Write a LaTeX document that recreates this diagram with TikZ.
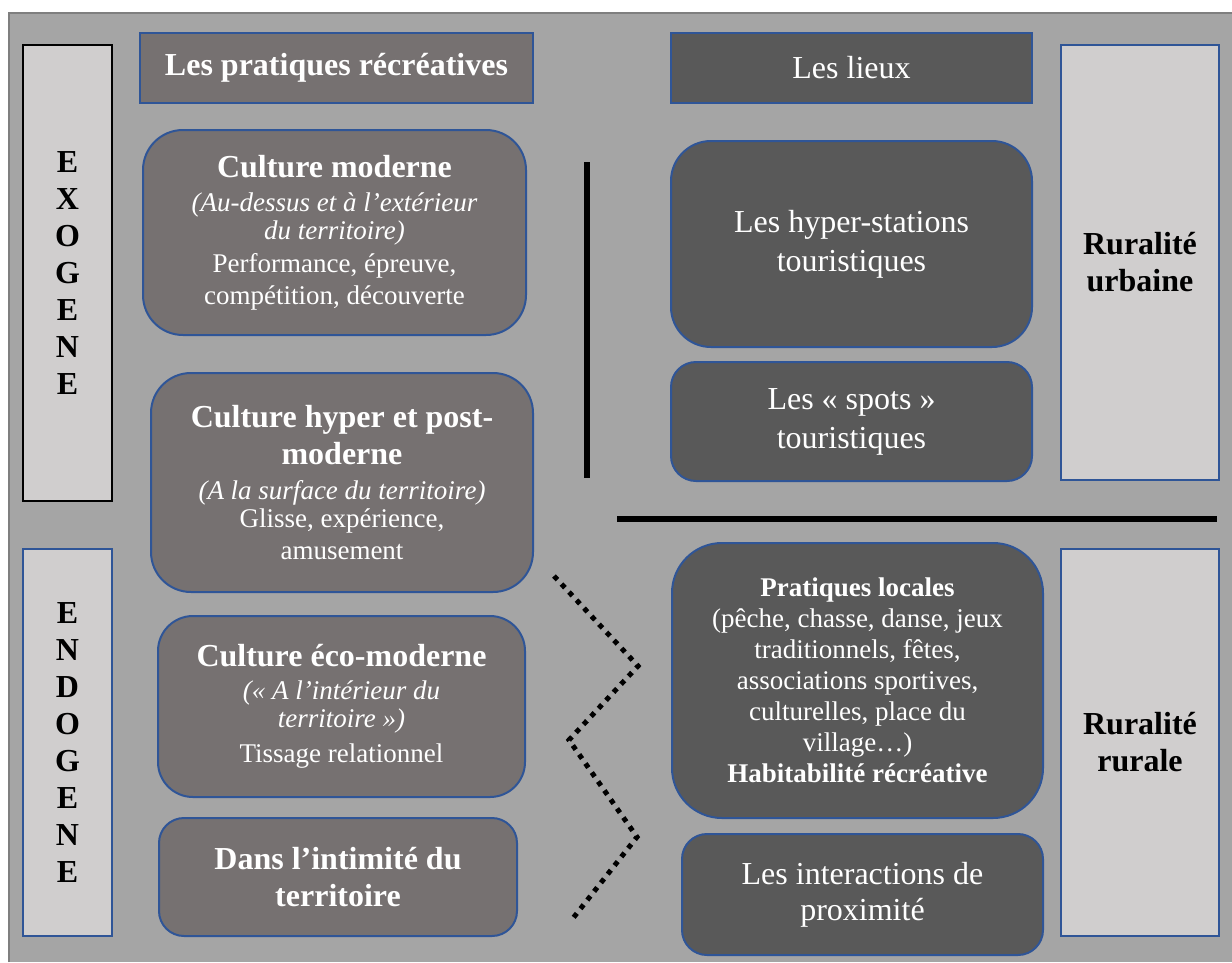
\documentclass[tikz,border=0pt]{standalone}
\usepackage{fontspec}
\setmainfont{Liberation Serif}
\definecolor{bgc}{HTML}{A5A5A5}
\definecolor{framec}{HTML}{7F7F7F}
\definecolor{leftc}{HTML}{767171}
\definecolor{rightc}{HTML}{595959}
\definecolor{lightc}{HTML}{D0CECE}
\definecolor{bluec}{HTML}{2F5597}
\newcommand\fsB{\fontsize{32}{37}\selectfont\bfseries}
\newcommand\fsR{\fontsize{27}{31}\selectfont}
\newcommand\fsM{\fontsize{32}{39}\selectfont}
\begin{document}
\begin{tikzpicture}[x=1pt,y=-1pt,
  base/.style={inner sep=0pt, outer sep=0pt, line width=2pt, align=center},
  sz/.style 2 args={minimum width=#1pt, minimum height=#2pt},
  hdl/.style={base, fill=leftc, draw=bluec, text=white},
  hdr/.style={base, fill=rightc, draw=bluec, text=white},
  lbox/.style={base, fill=leftc, draw=bluec, text=white, rounded corners=#1},
  rbox/.style={base, fill=rightc, draw=bluec, text=white, rounded corners=#1},
  side/.style={base, fill=lightc, draw=bluec, text=black},
  sepline/.style={line width=6pt, black},
  zig/.style={line width=5pt, dash pattern=on 5pt off 6pt, black},
]
\useasboundingbox (0,0) rectangle (1232,962);
\fill[bgc] (9,13) rectangle (1232,962);
\draw[framec, line width=2pt] (9,962) -- (9,13) -- (1232,13);

% headers
\node[hdl, sz={393}{70}, font=\fsB] (pr) at (336.5,68) {Les pratiques récréatives};
\node[hdr, sz={361}{70}, font=\fsM] (lx) at (851.5,68) {Les lieux};

% side boxes
\node[base, fill=lightc, draw=black, sz={89}{456}, font=\fsB] (exo) at (67.5,273) {E\\X\\O\\G\\E\\N\\E};
\node[side, sz={89}{387}, font=\fsB] (endo) at (67.5,742.5) {E\\N\\D\\O\\G\\E\\N\\E};
\node[side, sz={158}{435}, font=\fsB] (ru) at (1140,262.5) {Ruralité\\urbaine};
\node[side, sz={158}{387}, font=\fsB] (rr) at (1140,742.5) {Ruralité\\rurale};

% left column
\node[lbox=40pt, sz={383}{205}, font=\fsR] (cm) at (334.5,232.5)
  {{\fsB Culture moderne}\\[3pt]\textit{(Au-dessus et à l’extérieur}\\[-3pt]\textit{du territoire)}\\[2pt]Performance, épreuve,\\[1pt]compétition, découverte};
\node[lbox=40pt, sz={382}{219}, font=\fsR] (ch) at (342,482.5)
  {{\fsB Culture hyper et post-}\\[6pt]{\fsB moderne}\\[4pt]\textit{(A la surface du territoire)}\\[-3pt]Glisse, expérience,\\[1pt]amusement};
\node[lbox=35pt, sz={367}{181}, font=\fsR] (ce) at (341.5,706.5)
  {{\fsB Culture éco-moderne}\\[2pt]\textit{(« A l’intérieur du}\\[-3pt]\textit{territoire »)}\\[4pt]Tissage relationnel};
\node[lbox=25pt, sz={358}{118}, font=\fsB] (di) at (338,877)
  {Dans l’intimité du\\territoire};

% right column
\node[rbox=40pt, sz={361}{206}, font=\fsM] (hs) at (851.5,244)
  {Les hyper-stations\\touristiques};
\node[rbox=25pt, sz={361}{119}, font=\fsM] (sp) at (851.5,421.5)
  {Les « spots »\\touristiques};
\node[rbox=50pt, sz={371}{275}, font=\fsR] (pl) at (857.5,680.5)
  {\textbf{Pratiques locales}\\(pêche, chasse, danse, jeux\\traditionnels, fêtes,\\associations sportives,\\culturelles, place du\\village…)\\\textbf{Habitabilité récréative}};
\node[rbox=25pt, sz={361}{121}, font=\fontsize{32}{36}\selectfont] (ip) at (862.5,894.5)
  {Les interactions de\\proximité};

% separators
\coordinate (v1) at (587,162);
\coordinate (v2) at (587,478);
\draw[sepline, line width=5.5pt] (v1) -- (v2);
\coordinate (h1) at (617,519);
\coordinate (h2) at (1217,519);
\draw[sepline] (h1) -- (h2);

% dotted zigzag
\coordinate (z1) at (554,576);
\coordinate (z2) at (638,666);
\coordinate (z3) at (569,740);
\coordinate (z4) at (637,837);
\coordinate (z5) at (570,922);
\draw[zig] (z1) -- (z2) -- (z3) -- (z4) -- (z5);
\end{tikzpicture}
\end{document}
